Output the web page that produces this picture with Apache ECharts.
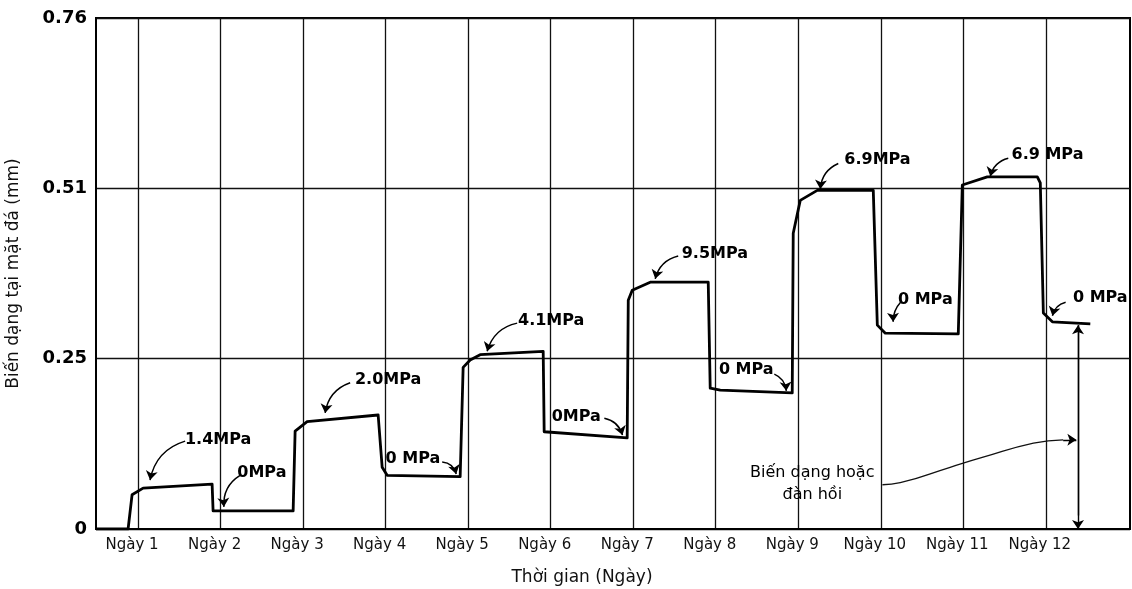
<!DOCTYPE html>
<html><head><meta charset="utf-8">
<script src="https://cdn.jsdelivr.net/npm/echarts@6/dist/echarts.min.js"></script>
<style>html,body{margin:0;padding:0;background:#fff}#c{width:1132px;height:589px}</style>
</head><body><div id="c"></div>
<script>
// ---- data ----
const dayTicks = [1,2,3,4,5,6,7,8,9,10,11,12];
const dayLabels = ['Ngày 1','Ngày 2','Ngày 3','Ngày 4','Ngày 5','Ngày 6','Ngày 7','Ngày 8','Ngày 9','Ngày 10','Ngày 11','Ngày 12'];
const yTickValues = [0, 0.254, 0.508, 0.762];
const yTickLabels = ['0','0.25','0.51','0.76'];

const strainDay = [0.49,0.879,0.927,1.061,1.897,1.909,2.879,2.903,3.048,3.909,3.958,4.018,4.903,4.939,5.024,5.145,5.909,5.921,6.927,6.94,6.988,7.206,7.909,7.933,8.055,8.927,8.939,9.024,9.23,9.909,9.958,10.055,10.939,10.988,11.29,11.897,11.933,11.97,12.079,12.539];
const strainValue = [0,0,0.051,0.061,0.067,0.027,0.027,0.146,0.160,0.170,0.092,0.080,0.078,0.241,0.252,0.260,0.265,0.145,0.136,0.341,0.356,0.368,0.368,0.210,0.207,0.203,0.441,0.490,0.505,0.505,0.304,0.292,0.291,0.513,0.525,0.525,0.516,0.322,0.309,0.306];

const pressureLabels = ['1.4MPa','0MPa','2.0MPa','0 MPa','4.1MPa','0MPa','9.5MPa','0 MPa','6.9MPa','0 MPa','6.9 MPa','0 MPa'];
const labelDay   = [1.97,2.50,4.03,4.33,6.006,6.31,7.99,8.37,9.96,10.54,12.02,12.66];
const labelValue = [0.133,0.083,0.222,0.104,0.310,0.167,0.411,0.237,0.550,0.341,0.558,0.345];
const arrowFromDay   = [1.57,2.236,3.57,4.685,5.594,6.65,7.545,8.71,9.485,10.24,11.545,12.24];
const arrowFromValue = [0.131,0.080,0.218,0.100,0.307,0.165,0.407,0.231,0.545,0.338,0.553,0.338];
const arrowToDay     = [1.145,2.04,3.267,4.855,5.23,6.87,7.267,8.855,9.267,10.15,11.327,12.08];
const arrowToValue   = [0.073,0.033,0.173,0.082,0.265,0.140,0.373,0.206,0.507,0.309,0.526,0.318];
const arrowBend      = [-0.3,-0.3,-0.3,0.35,-0.3,0.3,-0.3,0.3,-0.3,-0.2,-0.3,-0.3];

const elasticText = ['Biến dạng hoặc','đàn hồi'];
const elasticTextPos = [9.17, 0.067];
const waveDay   = [10.02,10.236,10.84,11.24,11.85,12.21];
const waveValue = [0.066,0.069,0.092,0.107,0.128,0.133];
const waveArrowEnd = [12.37, 0.133];
const elasticArrowDay = 12.39;
const elasticArrowTop = 0.304;
const elasticArrowBottom = 0;

// ---- chart ----
const FONT = 'DejaVu Sans';
const chart = echarts.init(document.getElementById('c'), null, {renderer:'canvas'});

const annotationArrows = pressureLabels.map((_, i) => ({
  coords: [[arrowFromDay[i], arrowFromValue[i]], [arrowToDay[i], arrowToValue[i]]],
  lineStyle: { curveness: arrowBend[i] }
}));

chart.setOption({
  animation: false,
  backgroundColor: '#fff',
  grid: { left: 96, right: 2, top: 18, bottom: 60, containLabel: false, outerBoundsMode: 'none',
    show: true, borderColor: '#000', borderWidth: 2, backgroundColor: 'transparent' },
  xAxis: {
    type: 'value', min: 0.49, max: 13.02,
    name: 'Thời gian (Ngày)', nameLocation: 'middle', nameGap: 40,
    nameTextStyle: { fontFamily: FONT, fontSize: 17, color: '#111', padding: [0, 62, 0, 0] },
    axisLine: { show: true, onZero: false, lineStyle: { color: '#000', width: 2 } },
    axisTick: { show: false, customValues: dayTicks },
    axisLabel: {
      customValues: dayTicks, margin: 9,
      fontFamily: FONT, fontSize: 15, color: '#111', padding: [0, 12, 0, 0],
      formatter: v => dayLabels[dayTicks.indexOf(Math.round(v))] || ''
    },
    splitLine: { show: true, lineStyle: { color: '#111', width: 1.3 } }
  },
  yAxis: {
    type: 'value', min: 0, max: 0.762, interval: 0.254,
    name: 'Biến dạng tại mặt đá (mm)', nameLocation: 'middle', nameGap: 74, nameRotate: 90,
    nameTextStyle: { fontFamily: FONT, fontSize: 17, color: '#111' },
    axisLine: { show: true, lineStyle: { color: '#000', width: 2 } },
    axisTick: { show: false },
    axisLabel: {
      margin: 9, fontFamily: FONT, fontSize: 18, fontWeight: 'bold', color: '#000',
      formatter: v => yTickLabels[Math.round(v / 0.254)]
    },
    splitLine: { show: true, lineStyle: { color: '#111', width: 1.3 } }
  },
  series: [
    {
      type: 'line', name: 'strain',
      data: strainDay.map((d, i) => [d, strainValue[i]]),
      showSymbol: false, symbol: 'none',
      lineStyle: { color: '#000', width: 2.8, join: 'round' },
      z: 5
    },
    {
      type: 'lines', coordinateSystem: 'cartesian2d',
      data: annotationArrows,
      symbol: ['none', 'arrow'], symbolSize: [0, 9],
      lineStyle: { color: '#000', width: 1.5, opacity: 1 },
      z: 6
    },
    {
      type: 'line', name: 'wave',
      data: waveDay.map((d, i) => [d, waveValue[i]]),
      smooth: 0.5, showSymbol: false, symbol: 'none',
      lineStyle: { color: '#111', width: 1.3 },
      z: 4
    },
    {
      type: 'lines', coordinateSystem: 'cartesian2d',
      data: [
        { coords: [[waveDay[waveDay.length-1], waveValue[waveValue.length-1]], waveArrowEnd] },
        { coords: [[elasticArrowDay, elasticArrowTop], [elasticArrowDay, elasticArrowBottom]] }
      ],
      symbol: ['none', 'arrow'], symbolSize: [0, 9],
      lineStyle: { color: '#000', width: 1.4, opacity: 1 },
      z: 6
    },
    {
      type: 'lines', coordinateSystem: 'cartesian2d',
      data: [
        { coords: [[elasticArrowDay, elasticArrowBottom + 0.02], [elasticArrowDay, elasticArrowTop]] }
      ],
      symbol: ['none', 'arrow'], symbolSize: [0, 9],
      lineStyle: { color: '#000', width: 1.4, opacity: 1 },
      z: 6
    },
    {
      type: 'scatter',
      data: pressureLabels.map((t, i) => ({ value: [labelDay[i], labelValue[i]], name: t })),
      symbol: 'circle', symbolSize: 1, itemStyle: { color: 'rgba(0,0,0,0)', opacity: 1 },
      label: { show: true, position: 'inside', formatter: p => p.name,
        fontFamily: FONT, fontSize: 16, fontWeight: 'bold', color: '#000' },
      z: 7
    },
    {
      type: 'scatter',
      data: [{ value: elasticTextPos, name: elasticText.join('\n') }],
      symbol: 'circle', symbolSize: 1, itemStyle: { color: 'rgba(0,0,0,0)', opacity: 1 },
      label: { show: true, position: 'inside', formatter: p => p.name, align: 'center',
        fontFamily: FONT, fontSize: 16, lineHeight: 22, color: '#000' },
      z: 7
    }
  ]
});
</script></body></html>
